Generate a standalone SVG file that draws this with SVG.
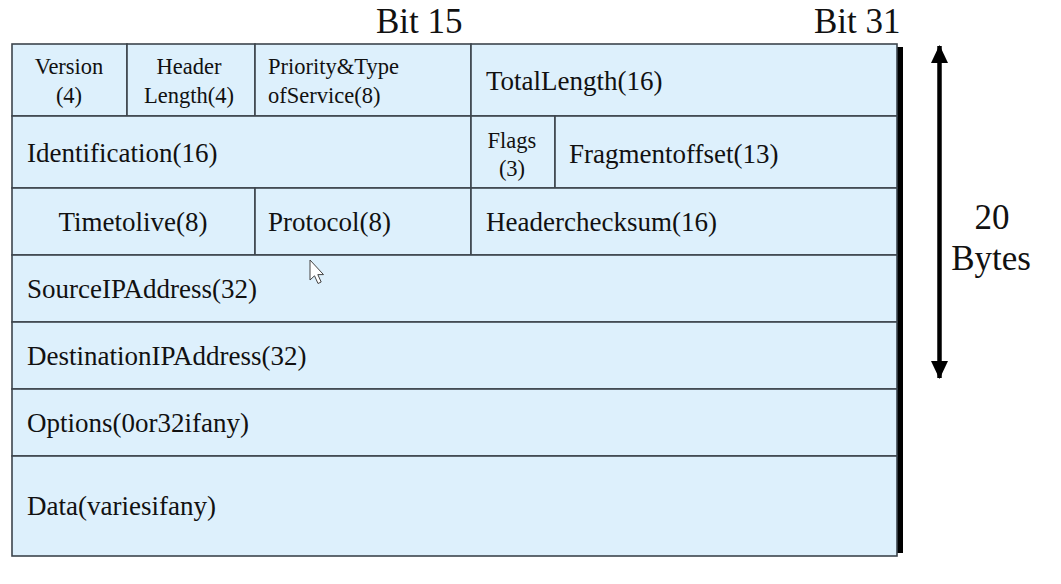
<svg xmlns="http://www.w3.org/2000/svg" width="1061" height="584" viewBox="0 0 1061 584">
<style>
.cell{fill:#DDF0FC;stroke:#3d454d;stroke-width:1.6}
.t{font-family:"Liberation Serif","Times New Roman",serif;font-size:27px;fill:#111}
.s{font-family:"Liberation Serif","Times New Roman",serif;font-size:22.5px;fill:#111}
.h{font-family:"Liberation Serif","Times New Roman",serif;font-size:35px;fill:#111}
.c{text-anchor:middle}
</style>
<defs>
<marker id="ah" viewBox="0 0 18 17" refX="17" refY="8.5" markerWidth="18" markerHeight="17" markerUnits="userSpaceOnUse" orient="auto-start-reverse">
<path d="M0 0 L18 8.5 L0 17 Z" fill="#000"/>
</marker>
</defs>
<rect width="1061" height="584" fill="#fff"/>
<text class="h" x="376" y="33">Bit 15</text>
<text class="h" x="814" y="33">Bit 31</text>
<rect x="896" y="47" width="7" height="506" fill="#000"/>
<g id="version"><rect class="cell" x="12" y="44" width="115" height="72"/><text class="s c" x="69" y="74">Version</text><text class="s c" x="69" y="103">(4)</text></g>
<g id="header-length"><rect class="cell" x="127" y="44" width="128" height="72"/><text class="s c" x="189" y="74">Header</text><text class="s c" x="189" y="103">Length(4)</text></g>
<g id="priority"><rect class="cell" x="255" y="44" width="216" height="72"/><text class="s" x="268" y="74">Priority&amp;Type</text><text class="s" x="268" y="103">ofService(8)</text></g>
<g id="total-length"><rect class="cell" x="471" y="44" width="426" height="72"/><text class="t" x="486" y="90">TotalLength(16)</text></g>
<g id="identification"><rect class="cell" x="12" y="116" width="459" height="72"/><text class="t" x="27" y="162">Identification(16)</text></g>
<g id="flags"><rect class="cell" x="471" y="116" width="84" height="72"/><text class="s c" x="512" y="148">Flags</text><text class="s c" x="512" y="176">(3)</text></g>
<g id="fragment-offset"><rect class="cell" x="555" y="116" width="342" height="72"/><text class="t" x="569" y="163">Fragmentoffset(13)</text></g>
<g id="ttl"><rect class="cell" x="12" y="188" width="243" height="67"/><text class="t c" x="133" y="231">Timetolive(8)</text></g>
<g id="protocol"><rect class="cell" x="255" y="188" width="216" height="67"/><text class="t" x="268" y="231">Protocol(8)</text></g>
<g id="header-checksum"><rect class="cell" x="471" y="188" width="426" height="67"/><text class="t" x="486" y="231">Headerchecksum(16)</text></g>
<g id="source"><rect class="cell" x="12" y="255" width="885" height="67"/><text class="t" x="27" y="298">SourceIPAddress(32)</text></g>
<g id="destination"><rect class="cell" x="12" y="322" width="885" height="67"/><text class="t" x="27" y="365">DestinationIPAddress(32)</text></g>
<g id="options"><rect class="cell" x="12" y="389" width="885" height="67"/><text class="t" x="27" y="432">Options(0or32ifany)</text></g>
<g id="data"><rect class="cell" x="12" y="456" width="885" height="100"/><text class="t" x="27" y="515">Data(variesifany)</text></g>
<g id="connectors">
<line x1="939.5" y1="46" x2="939.5" y2="378" stroke="#000" stroke-width="4.5" marker-start="url(#ah)" marker-end="url(#ah)"/>
</g>
<g id="size-label"><text class="h c" x="992" y="229">20</text><text class="h c" x="991" y="270">Bytes</text></g>
<path d="M310 260 L310 280 L314.5 275.8 L318 283.5 L321.2 282 L317.8 274.6 L323.5 274.6 Z" fill="#fff" stroke="#444" stroke-width="1"/>
</svg>
